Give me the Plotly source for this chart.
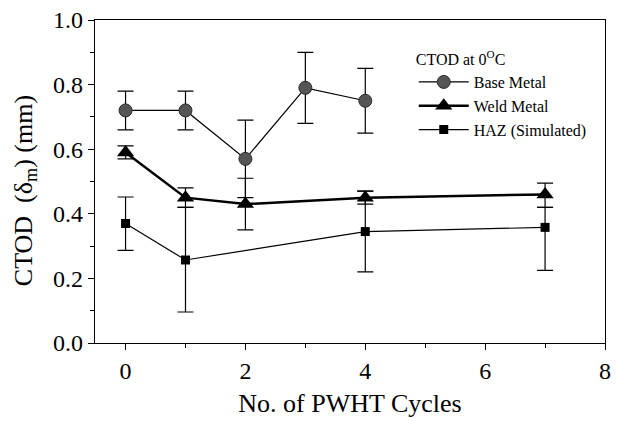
import plotly.graph_objects as go

base_x = [0, 1, 2, 3, 4]
base_y = [0.72, 0.72, 0.57, 0.79, 0.75]
base_hi = [0.78, 0.78, 0.69, 0.90, 0.85]
base_lo = [0.66, 0.66, 0.45, 0.68, 0.65]

weld_x = [0, 1, 2, 4, 7]
weld_y = [0.59, 0.45, 0.43, 0.45, 0.46]
weld_hi = [0.61, 0.48, 0.51, 0.47, 0.495]
weld_lo = [0.57, 0.42, 0.35, 0.43, 0.42]

haz_x = [0, 1, 4, 7]
haz_y = [0.37, 0.257, 0.345, 0.358]
haz_hi = [0.452, 0.42, 0.47, 0.42]
haz_lo = [0.287, 0.096, 0.22, 0.225]

x_ticks = [0, 2, 4, 6, 8]
y_ticks = [0.0, 0.2, 0.4, 0.6, 0.8, 1.0]

FONT = "Liberation Serif"


def err(y, hi, lo):
    return dict(type="data", symmetric=False,
                array=[h - v for h, v in zip(hi, y)],
                arrayminus=[v - l for v, l in zip(y, lo)],
                color="black", thickness=1.2, width=8)


fig = go.Figure()
fig.add_trace(go.Scatter(
    x=base_x, y=base_y, name="Base Metal", mode="lines+markers",
    line=dict(color="black", width=1.2),
    marker=dict(symbol="circle", size=13, color="#555555", line=dict(color="#2a2a2a", width=1)),
    error_y=err(base_y, base_hi, base_lo)))
fig.add_trace(go.Scatter(
    x=weld_x, y=weld_y, name="Weld Metal", mode="lines+markers",
    line=dict(color="black", width=2.5),
    marker=dict(symbol="triangle-up", size=15, color="black"),
    error_y=err(weld_y, weld_hi, weld_lo)))
fig.add_trace(go.Scatter(
    x=haz_x, y=haz_y, name="HAZ (Simulated)", mode="lines+markers",
    line=dict(color="black", width=1.2),
    marker=dict(symbol="square", size=9, color="black"),
    error_y=err(haz_y, haz_hi, haz_lo)))

fig.update_layout(
    width=618, height=421,
    margin=dict(l=95, r=7, t=17, b=78),
    paper_bgcolor="white", plot_bgcolor="white",
    font=dict(family=FONT, color="black", size=20),
    legend=dict(x=0.625, y=0.925, xanchor="left", yanchor="top",
                bgcolor="rgba(0,0,0,0)", font=dict(size=16, family=FONT),
                title=dict(text="CTOD at 0<sup>O</sup>C", font=dict(size=16, family=FONT)),
                tracegroupgap=0, itemwidth=50),
    xaxis=dict(range=[-0.51, 8], tickvals=x_ticks, ticks="outside", ticklen=6,
               tickcolor="black", linecolor="black", linewidth=1.2, mirror=True,
               showgrid=False, zeroline=False, ticklabeloverflow="allow",
               minor=dict(dtick=1, ticks="outside", ticklen=4, tickcolor="black"),
               title=dict(text="No. of PWHT Cycles", font=dict(size=26), standoff=10),
               tickfont=dict(size=24)),
    yaxis=dict(range=[0, 1.0], tickvals=y_ticks, tickformat=".1f", ticks="outside", ticklen=6,
               tickcolor="black", linecolor="black", linewidth=1.2, mirror=True,
               showgrid=False, zeroline=False,
               minor=dict(dtick=0.1, ticks="outside", ticklen=4, tickcolor="black"),
               tickfont=dict(size=24)),
    annotations=[dict(text="CTOD  (δ<sub>m</sub>) (mm)", textangle=-90,
                      xref="paper", yref="paper", x=0, y=0.47,
                      xanchor="center", yanchor="middle", xshift=-70,
                      showarrow=False, font=dict(size=26, family=FONT))],
)

fig.write_html("out.html", config={"displayModeBar": False},
               post_script="document.body.style.margin='0';")
